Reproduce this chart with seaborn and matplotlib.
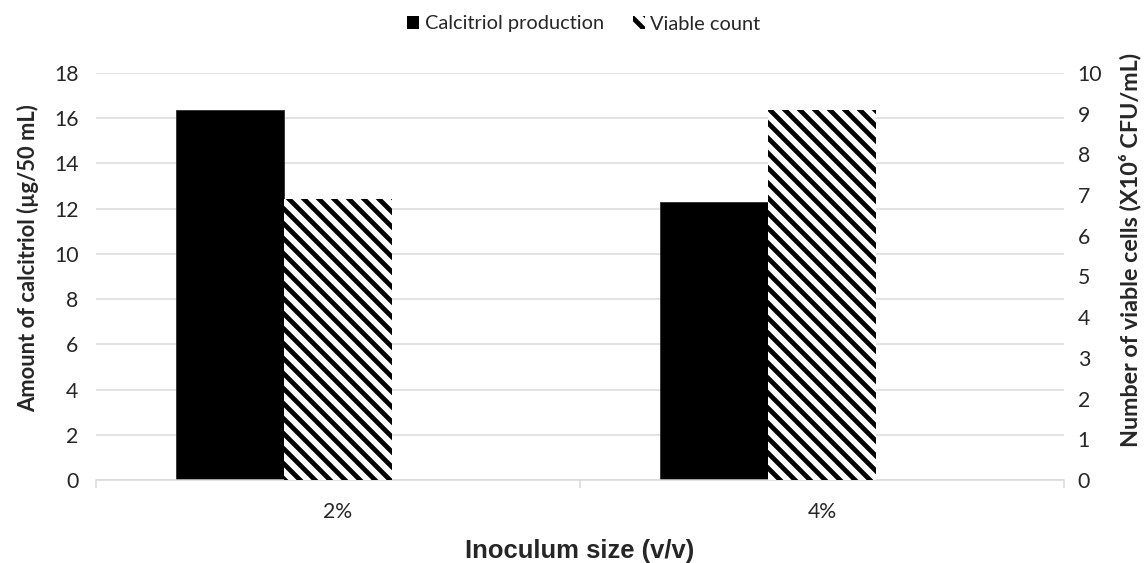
import matplotlib
matplotlib.use("Agg")
import matplotlib.pyplot as plt
import seaborn as sns
import numpy as np
from matplotlib.patches import Patch

categories = ["2%", "4%"]
calcitriol = [16.35, 12.3]
viable = [6.9, 9.1]
series_names = ["Calcitriol production", "Viable count"]
left_ticks = list(range(0, 19, 2))
right_ticks = list(range(0, 11, 1))

sns.set_theme(style="white")
plt.rcParams["font.family"] = ["Lato", "DejaVu Sans"]
plt.rcParams["hatch.linewidth"] = 3.8

DPI = 90
fig = plt.figure(figsize=(1146 / DPI, 563 / DPI), dpi=DPI)
ax1 = fig.add_axes([96 / 1146, 1 - 480 / 563, (1064 - 96) / 1146, (480 - 73) / 563])
ax2 = ax1.twinx()

bw = 0.223
sns.barplot(x=categories, y=calcitriol, ax=ax1, color="black", width=bw,
            edgecolor="#3a3a3a", linewidth=0.8, errorbar=None, saturation=1)
for p in ax1.patches:
    p.set_x(p.get_x() - bw)

sns.barplot(x=categories, y=viable, ax=ax2, color="white", width=bw,
            edgecolor="black", linewidth=0, hatch="\\\\", errorbar=None, saturation=1)

for ax in (ax1, ax2):
    ax.set_xlim(-0.5, 1.5)
    for s in ax.spines.values():
        s.set_visible(False)
ax1.spines["bottom"].set_visible(True)
ax1.spines["bottom"].set_color("#d9d9d9")
ax1.spines["bottom"].set_linewidth(1.2)

ax1.set_ylim(0, 18)
ax1.set_yticks(left_ticks)
ax1.set_yticklabels([str(t) for t in left_ticks])
ax2.set_ylim(0, 10)
ax2.set_yticks(right_ticks)
ax2.set_yticklabels([str(t) for t in right_ticks])

ax1.grid(axis="y", color="#d9d9d9", linewidth=1.2)
ax1.set_axisbelow(True)
ax2.grid(False)

ax1.tick_params(axis="y", length=0, pad=14, labelsize=17, labelcolor="#262626")
ax2.tick_params(axis="y", length=0, pad=11, labelsize=17, labelcolor="#262626")
ax1.tick_params(axis="x", which="major", length=0, pad=18, labelsize=17, labelcolor="#262626")
ax1.set_xticks([-0.5, 0.5, 1.5], minor=True)
ax1.tick_params(axis="x", which="minor", length=6, width=1.2, color="#d9d9d9", direction="out", bottom=True)
ax2.tick_params(axis="x", length=0)

ax1.set_xlabel("Inoculum size (v/v)", fontsize=20.5, fontweight="bold",
               family=["Liberation Sans", "DejaVu Sans"], labelpad=13)
ax1.set_ylabel("Amount of calcitriol (µg/50 mL)", fontsize=17.5, fontweight="bold")
ax2.set_ylabel("Number of viable cells (X10⁶ CFU/mL)", fontsize=18.7, fontweight="bold")
ax1.yaxis.set_label_coords(-0.059, 0.545)
ax2.yaxis.set_label_coords(1.057, 0.565)

handles = [Patch(facecolor="black", edgecolor="black", linewidth=0),
           Patch(facecolor="white", edgecolor="black", linewidth=0, hatch="\\\\")]
fig.legend(handles, series_names, loc="center", bbox_to_anchor=(584 / 1146, 1 - 24 / 563),
           ncol=2, frameon=False, fontsize=16, handlelength=0.6, handleheight=0.6,
           handletextpad=0.3, columnspacing=1.4, labelcolor="#262626")

fig.savefig("out.png", dpi=DPI)
